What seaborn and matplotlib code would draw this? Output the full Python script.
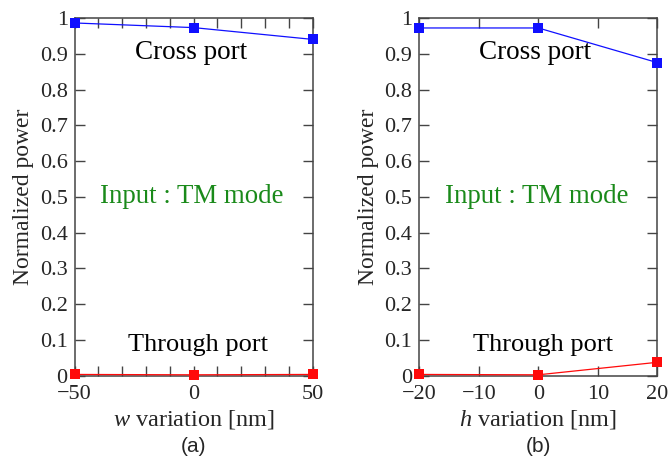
import matplotlib
matplotlib.use("Agg")
import matplotlib.pyplot as plt
from matplotlib.ticker import MultipleLocator, FixedLocator
import seaborn as sns
import pandas as pd

# Width variation sweep (panel a)
w_variation = [-50, 0, 50]
w_cross = [0.987, 0.974, 0.941]
w_through = [0.003, 0.002, 0.003]

# Height variation sweep (panel b)
h_variation = [-20, 0, 20]
h_cross = [0.973, 0.973, 0.876]
h_through = [0.003, 0.002, 0.037]

sns.set_theme(style="white")
plt.rcParams["font.family"] = ["Liberation Serif", "DejaVu Serif"]
plt.rcParams["mathtext.fontset"] = "custom"
plt.rcParams["mathtext.it"] = "Liberation Serif:italic"
plt.rcParams["mathtext.rm"] = "Liberation Serif"

fig = plt.figure(figsize=(6.68, 4.57), dpi=100)
ax_a = fig.add_axes([0.1118, 0.1783, 0.3563, 0.7816])
ax_b = fig.add_axes([0.6277, 0.1783, 0.3563, 0.7816])

spine_color = "#444444"


def draw_panel(ax, x, cross, through, xlim, major, minor, xlabel, tag):
    df = pd.DataFrame({"x": list(x) * 2,
                       "power": list(cross) + list(through),
                       "port": ["Cross"] * len(x) + ["Through"] * len(x)})
    sns.lineplot(data=df, x="x", y="power", hue="port",
                 palette={"Cross": "#1010ff", "Through": "#ff0a0a"},
                 marker="s", markersize=7, markeredgewidth=0, linewidth=0.9,
                 legend=False, ax=ax, clip_on=False, zorder=5)
    ax.set_xlim(*xlim)
    ax.set_ylim(0, 1)
    ax.xaxis.set_major_locator(FixedLocator(major))
    ax.xaxis.set_minor_locator(MultipleLocator(minor))
    ax.set_yticks([0, 0.1, 0.2, 0.3, 0.4, 0.5, 0.6, 0.7, 0.8, 0.9, 1.0])
    ax.set_yticklabels(["0", "0.1", "0.2", "0.3", "0.4", "0.5", "0.6",
                        "0.7", "0.8", "0.9", "1"])
    ax.set_xticklabels([f"{v}".replace("-", "\u2212") for v in major])
    ax.tick_params(which="both", direction="in", top=True, right=True,
                   bottom=True, left=True, color=spine_color, width=1,
                   labelsize=16)
    ax.tick_params(axis="y", which="both", pad=5)
    ax.tick_params(axis="x", which="both", pad=7)
    ax.tick_params(which="major", length=7)
    ax.tick_params(which="minor", length=7)
    for s in ax.spines.values():
        s.set_color(spine_color)
        s.set_linewidth(1.1)
    ax.set_xlabel(xlabel, fontsize=17.5, labelpad=3)
    ax.set_ylabel("Normalized power", fontsize=17, labelpad=4)
    ax.text(0.487, 0.905, "Cross port", transform=ax.transAxes, ha="center",
            va="center", fontsize=19.5, color="black")
    ax.text(0.493, 0.5, "Input : TM mode", transform=ax.transAxes,
            ha="center", va="center", fontsize=19.4, color="#1a8a1a")
    ax.text(0.52, 0.085, "Through port", transform=ax.transAxes, ha="center",
            va="center", fontsize=19, color="black")
    ax.text(0.5, -0.2, tag, transform=ax.transAxes, ha="center",
            va="center", fontsize=15, family="Liberation Sans")


draw_panel(ax_a, w_variation, w_cross, w_through, (-50, 50),
           [-50, 0, 50], 10, r"$w$ variation [nm]", "(a)")
draw_panel(ax_b, h_variation, h_cross, h_through, (-20, 20),
           [-20, -10, 0, 10, 20], 10, r"$h$ variation [nm]", "(b)")

fig.savefig("out.png", dpi=100)
